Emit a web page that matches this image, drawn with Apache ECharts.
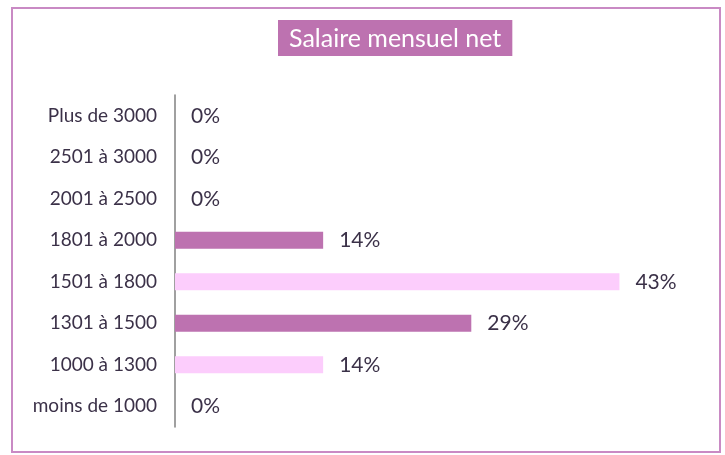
<!DOCTYPE html>
<html>
<head>
<meta charset="utf-8">
<script src="https://cdn.jsdelivr.net/npm/echarts@6/dist/echarts.min.js"></script>
<style>
  html, body { margin: 0; padding: 0; background: #fff; }
  #chart { width: 725px; height: 455px; }
</style>
</head>
<body>
<div id="chart"></div>
<script>
const categories = ['moins de 1000', '1000 à 1300', '1301 à 1500', '1501 à 1800',
  '1801 à 2000', '2001 à 2500', '2501 à 3000', 'Plus de 3000'];
const shares = [0, 14.3, 28.6, 42.9, 14.3, 0, 0, 0];

const darkBar = '#bd72b0';
const lightBar = '#fccdfc';
const textColor = '#3b3148';

const chart = echarts.init(document.getElementById('chart'));

const option = {
  animation: false,
  textStyle: { fontFamily: 'Lato' },
  graphic: [{
    type: 'rect',
    shape: { x: 12, y: 8, width: 708, height: 444 },
    style: { fill: 'none', stroke: '#c98ac4', lineWidth: 2 }
  }],
  title: {
    text: 'Salaire mensuel net',
    left: 278,
    top: 20,
    backgroundColor: '#bd72b0',
    padding: [6, 11, 5, 11],
    textStyle: {
      color: '#fff',
      fontSize: 25,
      fontWeight: 'normal',
      fontFamily: 'Lato'
    }
  },
  grid: {
    left: 175,
    right: 32,
    top: 95,
    bottom: 28
  },
  xAxis: {
    type: 'value',
    min: 0,
    max: 50,
    show: false
  },
  yAxis: {
    type: 'category',
    data: categories,
    axisLine: { lineStyle: { color: '#808080', width: 1.5 } },
    axisTick: { show: false },
    axisLabel: {
      color: textColor,
      fontSize: 19,
      margin: 18,
      fontFamily: 'Lato'
    }
  },
  series: [{
    type: 'bar',
    data: shares.map((v, i) => ({
      value: v,
      itemStyle: { color: i % 2 === 0 ? darkBar : lightBar }
    })),
    barWidth: 17,
    label: {
      show: true,
      position: 'right',
      distance: 16,
      color: textColor,
      fontSize: 21,
      fontFamily: 'Lato',
      formatter: p => Math.round(p.value) + '%'
    }
  }]
};

chart.setOption(option);
</script>
</body>
</html>
